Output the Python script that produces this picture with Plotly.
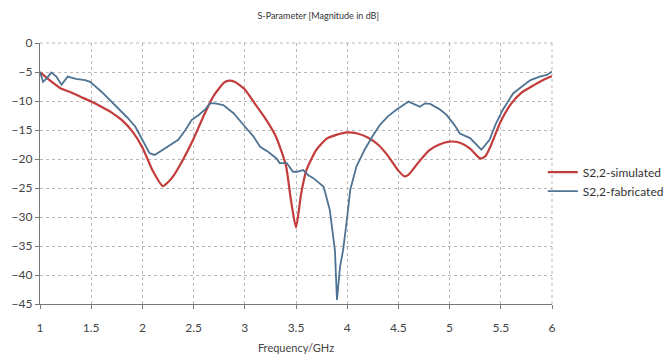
import plotly.graph_objects as go

# S2,2 simulated (red)
sim_freq = [1.0, 1.1, 1.2, 1.3, 1.4, 1.5, 1.6, 1.7, 1.8, 1.9, 2.0, 2.1, 2.2, 2.25,
            2.3, 2.4, 2.5, 2.6, 2.7, 2.8, 2.85, 2.9, 3.0, 3.1, 3.2, 3.3, 3.4, 3.45,
            3.5, 3.55, 3.6, 3.7, 3.8, 3.9, 4.0, 4.1, 4.2, 4.3, 4.4, 4.5, 4.56, 4.6,
            4.7, 4.8, 4.9, 5.0, 5.1, 5.2, 5.3, 5.35, 5.4, 5.5, 5.6, 5.7, 5.8, 5.9, 6.0]
sim_db = [-5.0, -6.5, -7.8, -8.5, -9.3, -10.1, -11.0, -12.0, -13.3, -15.2, -18.0, -22.0, -24.7, -24.0,
          -23.0, -20.0, -16.5, -12.5, -9.0, -6.8, -6.5, -6.7, -8.0, -10.5, -13.0, -16.0, -21.0, -27.0,
          -31.8, -26.0, -22.0, -18.4, -16.5, -15.8, -15.4, -15.6, -16.3, -17.5, -19.5, -22.0, -23.0, -22.7,
          -20.5, -18.5, -17.5, -17.0, -17.2, -18.2, -19.9, -19.5, -17.8, -13.5, -10.5, -8.6, -7.5, -6.5, -5.7]

# S2,2 fabricated (blue)
fab_freq = [1.0, 1.03, 1.07, 1.11, 1.16, 1.21, 1.27, 1.35, 1.44, 1.49, 1.6, 1.68, 1.76, 1.85, 1.93,
            2.0, 2.07, 2.12, 2.18, 2.25, 2.35, 2.42, 2.48, 2.55, 2.61, 2.66, 2.71, 2.79, 2.89,
            3.0, 3.08, 3.15, 3.23, 3.31, 3.34, 3.41, 3.47, 3.51, 3.57, 3.62, 3.67, 3.77, 3.83,
            3.88, 3.9, 3.93, 3.96, 4.0, 4.03, 4.09, 4.17, 4.25, 4.32, 4.4, 4.48, 4.6, 4.66, 4.71,
            4.76, 4.81, 4.9, 4.97, 5.05, 5.1, 5.2, 5.31, 5.39, 5.45, 5.52, 5.62, 5.7, 5.79, 5.88, 5.95, 6.0]
fab_db = [-5.0, -6.7, -6.0, -5.1, -5.8, -7.2, -5.8, -6.2, -6.4, -6.7, -8.4, -9.8, -11.3, -12.8, -14.4,
          -16.8, -19.0, -19.3, -18.6, -17.9, -16.7, -15.0, -13.3, -12.4, -11.5, -10.4, -10.4, -10.7, -12.1,
          -14.4, -16.0, -17.9, -18.8, -19.9, -20.7, -20.7, -22.2, -22.2, -21.9, -22.8, -23.3, -24.8, -28.8,
          -35.7, -44.3, -38.6, -35.7, -30.0, -25.3, -21.3, -18.4, -16.0, -14.1, -12.6, -11.5, -10.1, -10.6, -11.0,
          -10.4, -10.5, -11.4, -12.4, -14.2, -15.6, -16.4, -18.4, -16.7, -14.0, -11.5, -8.7, -7.6, -6.4, -5.8, -5.5, -4.9]

x_ticks = [1, 1.5, 2, 2.5, 3, 3.5, 4, 4.5, 5, 5.5, 6]
x_tick_labels = ["1", "1.5", "2", "2.5", "3", "3.5", "4", "4.5", "5", "5.5", "6"]
y_ticks = [0, -5, -10, -15, -20, -25, -30, -35, -40, -45]

font_family = "Lato, 'Open Sans', sans-serif"
grid_dash = "3px,3px"

fig = go.Figure()
fig.add_trace(go.Scatter(x=sim_freq, y=sim_db, mode="lines", name="S2,2-simulated",
                         line=dict(color="#c33c3c", width=2.2, shape="spline", smoothing=0.6)))
fig.add_trace(go.Scatter(x=fab_freq, y=fab_db, mode="lines", name="S2,2-fabricated",
                         line=dict(color="#4e7393", width=1.8)))

fig.update_layout(
    width=670, height=362,
    margin=dict(l=40, r=118, t=43, b=58, autoexpand=False),
    paper_bgcolor="white", plot_bgcolor="white",
    font=dict(family=font_family, size=12, color="#444444"),
    title=dict(text="S-Parameter [Magnitude in dB]", x=0.475, xanchor="center",
               y=0.955, yanchor="middle", font=dict(size=9, color="#333333")),
    legend=dict(x=0.982, xanchor="left", y=0.469, yanchor="middle",
                font=dict(size=12, color="#333333"), itemwidth=30,
                bgcolor="rgba(0,0,0,0)", tracegroupgap=0),
    showlegend=True,
)
fig.update_xaxes(range=[1, 6], tickvals=x_ticks, ticktext=x_tick_labels,
                 showline=True, linecolor="#777777", linewidth=1.2,
                 ticks="outside", ticklen=4, tickcolor="#777777",
                 ticklabelstandoff=8, tickfont=dict(size=12),
                 showgrid=True, gridcolor="#b8b8b8", griddash=grid_dash, gridwidth=1,
                 zeroline=False, mirror=False,
                 title=dict(text="Frequency/GHz", standoff=10, font=dict(size=11)))
fig.update_yaxes(range=[-45, 0], tickvals=y_ticks,
                 showline=True, linecolor="#777777", linewidth=1.2,
                 ticks="outside", ticklen=4, tickcolor="#777777",
                 tickfont=dict(size=12),
                 showgrid=True, gridcolor="#b8b8b8", griddash=grid_dash, gridwidth=1,
                 zeroline=False)
# dashed border at top and right like the reference grid
fig.add_shape(type="line", xref="paper", yref="paper", x0=0, x1=1, y0=1, y1=1,
              line=dict(color="#b8b8b8", width=1, dash=grid_dash))
fig.add_shape(type="line", xref="paper", yref="paper", x0=1, x1=1, y0=0, y1=1,
              line=dict(color="#b8b8b8", width=1, dash=grid_dash))

fig.write_html("out.html")
